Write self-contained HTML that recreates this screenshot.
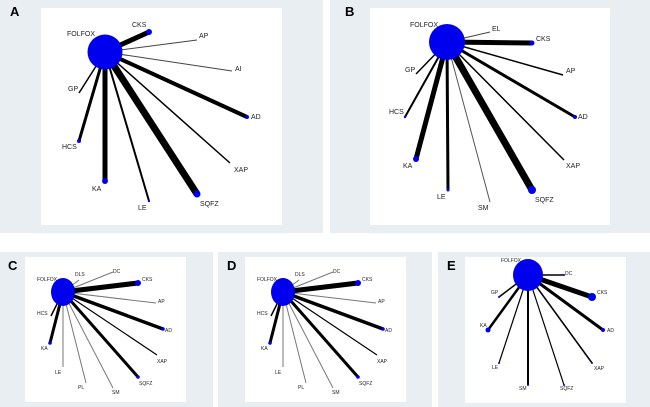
<!DOCTYPE html>
<html><head><meta charset="utf-8"><style>
html,body{margin:0;padding:0;background:#fff}
svg{display:block}
text{font-family:"Liberation Sans",Arial,sans-serif;fill:#222}
.L{font-size:7px}
.S{font-size:5px}
.P{font-size:13px;font-weight:bold;fill:#000}
</style></head><body>
<svg width="650" height="407" viewBox="0 0 650 407" xmlns="http://www.w3.org/2000/svg">
<rect x="0" y="0" width="323" height="233" fill="#e8eef1"/>
<rect x="330" y="0" width="320" height="233" fill="#e8eef1"/>
<rect x="0" y="252" width="213" height="155" fill="#e8eef1"/>
<rect x="218" y="252" width="214" height="155" fill="#e8eef1"/>
<rect x="438" y="252" width="212" height="155" fill="#e8eef1"/>

<!-- Panel A -->
<rect x="41" y="8" width="241" height="217" fill="#fff"/>
<text class="P" x="10" y="16">A</text>
<g stroke="#000" stroke-linecap="butt">
<line x1="105" y1="52" x2="149" y2="32" stroke-width="5"/>
<line x1="105" y1="52" x2="197" y2="40" stroke-width="1" stroke="#444"/>
<line x1="105" y1="52" x2="232" y2="71" stroke-width="1" stroke="#444"/>
<line x1="105" y1="52" x2="247" y2="117" stroke-width="4"/>
<line x1="105" y1="52" x2="230" y2="163" stroke-width="1.5"/>
<line x1="105" y1="52" x2="197" y2="194" stroke-width="7"/>
<line x1="105" y1="52" x2="149" y2="201" stroke-width="2"/>
<line x1="105" y1="52" x2="105" y2="181" stroke-width="5"/>
<line x1="105" y1="52" x2="79" y2="141" stroke-width="3"/>
<line x1="105" y1="52" x2="79" y2="93" stroke-width="1.5"/>
</g>
<g fill="#0000ee">
<circle cx="105" cy="52" r="17.5"/>
<circle cx="149" cy="32" r="3"/><circle cx="247" cy="117" r="2"/>
<circle cx="197" cy="194" r="3.5"/><circle cx="149" cy="201" r="1.2"/>
<circle cx="105" cy="181" r="3"/><circle cx="79" cy="141" r="2"/>
</g>
<g class="L">
<text x="67" y="36">FOLFOX</text><text x="132" y="27">CKS</text>
<text x="199" y="38">AP</text><text x="235" y="71">AI</text>
<text x="251" y="119">AD</text><text x="234" y="172">XAP</text>
<text x="200" y="206">SQFZ</text><text x="138" y="210">LE</text>
<text x="92" y="191">KA</text><text x="62" y="149">HCS</text>
<text x="68" y="91">GP</text>
</g>

<!-- Panel B -->
<rect x="370" y="8" width="240" height="217" fill="#fff"/>
<text class="P" x="345" y="16">B</text>
<g stroke="#000">
<line x1="447" y1="42" x2="490" y2="32" stroke-width="1" stroke="#444"/>
<line x1="447" y1="42" x2="532" y2="43" stroke-width="5"/>
<line x1="447" y1="42" x2="563" y2="75" stroke-width="1.5"/>
<line x1="447" y1="42" x2="575" y2="117" stroke-width="3"/>
<line x1="447" y1="42" x2="564" y2="160" stroke-width="1.5"/>
<line x1="447" y1="42" x2="532" y2="190" stroke-width="7"/>
<line x1="447" y1="42" x2="490" y2="202" stroke-width="1" stroke="#555"/>
<line x1="447" y1="42" x2="448" y2="190" stroke-width="3"/>
<line x1="447" y1="42" x2="416" y2="159" stroke-width="5"/>
<line x1="447" y1="42" x2="405" y2="117" stroke-width="2"/>
<line x1="447" y1="42" x2="416" y2="74" stroke-width="1.5"/>
</g>
<g fill="#0000ee">
<circle cx="447" cy="42" r="18"/>
<circle cx="532" cy="43" r="2.5"/><circle cx="575" cy="117" r="2"/>
<circle cx="532" cy="190" r="4"/><circle cx="448" cy="190" r="1.5"/>
<circle cx="416" cy="159" r="3"/><circle cx="405" cy="117" r="1.2"/>
</g>
<g class="L">
<text x="410" y="27">FOLFOX</text><text x="492" y="31">EL</text>
<text x="536" y="41">CKS</text><text x="566" y="73">AP</text>
<text x="578" y="119">AD</text><text x="566" y="168">XAP</text>
<text x="535" y="202">SQFZ</text><text x="478" y="210">SM</text>
<text x="437" y="199">LE</text><text x="403" y="168">KA</text>
<text x="389" y="114">HCS</text><text x="405" y="72">GP</text>
</g>

<!-- Panel C & D -->
<g id="cd">
<rect x="25" y="257" width="161" height="145" fill="#fff"/>
<g stroke="#000">
<line x1="63" y1="292" x2="79" y2="280" stroke-width="1" stroke="#777"/>
<line x1="63" y1="292" x2="113" y2="272" stroke-width="1" stroke="#777"/>
<line x1="63" y1="292" x2="138" y2="283" stroke-width="5"/>
<line x1="63" y1="292" x2="156" y2="303" stroke-width="1" stroke="#777"/>
<line x1="63" y1="292" x2="163" y2="329" stroke-width="3.5"/>
<line x1="63" y1="292" x2="157" y2="355" stroke-width="1.2"/>
<line x1="63" y1="292" x2="138" y2="377" stroke-width="3"/>
<line x1="63" y1="292" x2="113" y2="388" stroke-width="1" stroke="#777"/>
<line x1="63" y1="292" x2="86" y2="383" stroke-width="1" stroke="#777"/>
<line x1="63" y1="292" x2="63" y2="367" stroke-width="1" stroke="#777"/>
<line x1="63" y1="292" x2="50" y2="343" stroke-width="3"/>
<line x1="63" y1="292" x2="51" y2="316" stroke-width="1.5"/>
</g>
<g fill="#0000ee">
<ellipse cx="63" cy="292" rx="12" ry="14"/>
<circle cx="138" cy="283" r="3"/><circle cx="163" cy="329" r="1.8"/>
<circle cx="138" cy="377" r="1.8"/><circle cx="50" cy="343" r="1.8"/>
</g>
<g class="S">
<text x="37" y="281">FOLFOX</text><text x="75" y="276">DLS</text>
<text x="113" y="273">DC</text><text x="142" y="281">CKS</text>
<text x="158" y="303">AP</text><text x="165" y="332">AD</text>
<text x="157" y="363">XAP</text><text x="139" y="385">SQFZ</text>
<text x="112" y="394">SM</text><text x="78" y="389">PL</text>
<text x="55" y="374">LE</text><text x="41" y="350">KA</text>
<text x="37" y="315">HCS</text>
</g>
</g>
<text class="P" x="8" y="270">C</text>
<use href="#cd" x="220" y="0"/>
<text class="P" x="227" y="270">D</text>

<!-- Panel E -->
<rect x="465" y="257" width="161" height="146" fill="#fff"/>
<text class="P" x="447" y="270">E</text>
<g stroke="#000">
<line x1="528" y1="275" x2="564" y2="275" stroke-width="1.5"/>
<line x1="528" y1="275" x2="592" y2="297" stroke-width="5"/>
<line x1="528" y1="275" x2="603" y2="330" stroke-width="3"/>
<line x1="528" y1="275" x2="592" y2="363" stroke-width="1.5"/>
<line x1="528" y1="275" x2="564" y2="385" stroke-width="1.2"/>
<line x1="528" y1="275" x2="528" y2="385" stroke-width="2"/>
<line x1="528" y1="275" x2="499" y2="363" stroke-width="1.2"/>
<line x1="528" y1="275" x2="488" y2="330" stroke-width="2.5"/>
<line x1="528" y1="275" x2="499" y2="297" stroke-width="1.5"/>
</g>
<g fill="#0000ee">
<ellipse cx="528" cy="275" rx="15" ry="16"/>
<circle cx="564" cy="275" r="1"/><circle cx="592" cy="297" r="4"/>
<circle cx="603" cy="330" r="2"/><circle cx="592" cy="363" r="1"/>
<circle cx="564" cy="385" r="1"/><circle cx="528" cy="385" r="1"/>
<circle cx="499" cy="363" r="1"/><circle cx="488" cy="330" r="2.5"/>
<circle cx="499" cy="297" r="1"/>
</g>
<g class="S">
<text x="501" y="262">FOLFOX</text><text x="565" y="275">DC</text>
<text x="597" y="294">CKS</text><text x="607" y="332">AD</text>
<text x="594" y="370">XAP</text><text x="560" y="390">SQFZ</text>
<text x="519" y="390">SM</text><text x="492" y="369">LE</text>
<text x="480" y="327">KA</text><text x="491" y="294">GP</text>
</g>
</svg>
</body></html>
